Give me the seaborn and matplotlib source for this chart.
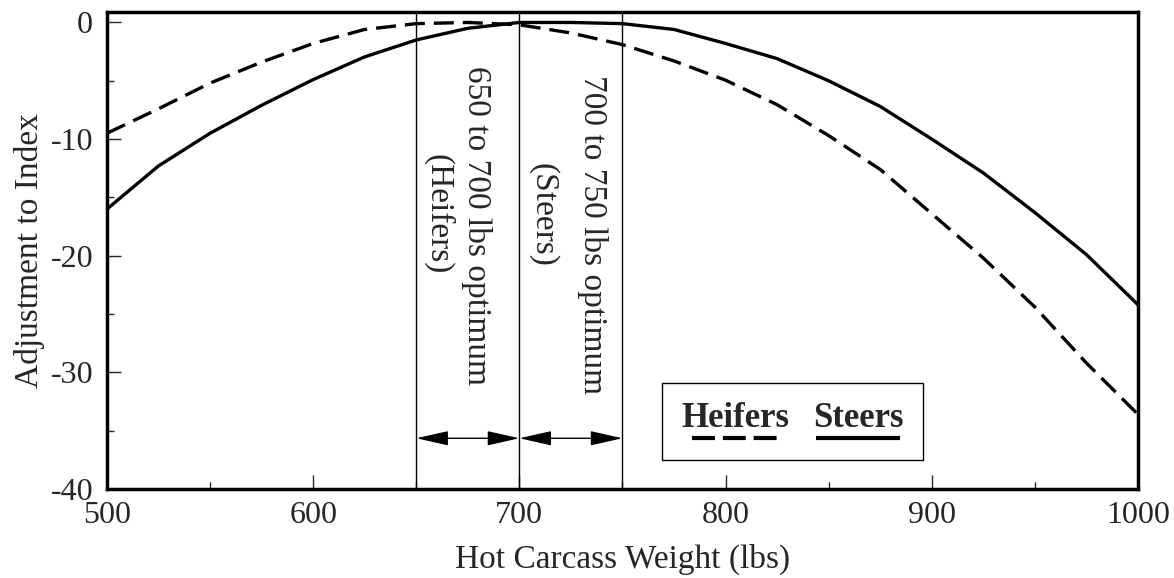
import pandas as pd
import matplotlib.pyplot as plt
import seaborn as sns
from matplotlib.lines import Line2D
from matplotlib.ticker import MultipleLocator
from matplotlib.offsetbox import AnchoredOffsetbox, DrawingArea, HPacker, TextArea, VPacker

# Values
weight = [500, 525, 550, 575, 600, 625, 650, 675, 700, 725, 750,
          775, 800, 825, 850, 875, 900, 925, 950, 975, 1000]
heifers = [-9.5, -7.4, -5.2, -3.4, -1.8, -0.6, -0.1, 0.0, -0.2, -0.9, -1.9,
           -3.3, -4.95, -7.05, -9.7, -12.6, -16.4, -20.2, -24.4, -29.2, -33.6]
steers = [-16.0, -12.3, -9.5, -7.1, -4.9, -2.95, -1.5, -0.5, 0.0, 0.0, -0.1,
          -0.6, -1.8, -3.1, -5.0, -7.2, -10.0, -12.9, -16.3, -19.9, -24.2]

groups = ["Heifers", "Steers"]
opt_bounds = [650, 700, 750]
opt_ranges = [(650, 700), (700, 750)]
x_ticks = [500, 600, 700, 800, 900, 1000]
y_ticks = [0, -10, -20, -30, -40]
y_ticklabels = ["0", "-10", "-20", "-30", "-40"]

df = pd.DataFrame({
    "weight": weight * 2,
    "adj": heifers + steers,
    "group": ["Heifers"] * len(weight) + ["Steers"] * len(weight),
})

sns.set_style("ticks")
plt.rcParams["font.family"] = ["Liberation Serif", "DejaVu Serif"]
plt.rcParams["axes.unicode_minus"] = False

fig = plt.figure(figsize=(11.74, 5.78), dpi=100)
ax = fig.add_axes([0.0911, 0.1540, 0.8782, 0.8253])

sns.lineplot(data=df, x="weight", y="adj", style="group", style_order=groups,
             dashes={"Heifers": (6, 2.7), "Steers": ""}, color="black",
             linewidth=2.4, legend=False, ax=ax)

# optimum ranges
for b in opt_bounds:
    ax.axvline(b, color="black", lw=1)
y_arrow = -35.65
for lo, hi in opt_ranges:
    ax.annotate("", xy=(hi, y_arrow), xytext=(lo, y_arrow),
                arrowprops=dict(arrowstyle="<|-|>,head_length=2.0,head_width=0.45",
                                mutation_scale=10, color="black", lw=1,
                                shrinkA=0, shrinkB=0))

ax.text(679.4, -17.4, "650 to 700 lbs optimum", rotation=-90, ha="center", va="center", fontsize=24)
ax.text(660.5, -16.4, "(Heifers)", rotation=-90, ha="center", va="center", fontsize=24)
ax.text(735.7, -18.2, "700 to 750 lbs optimum", rotation=-90, ha="center", va="center", fontsize=24)
ax.text(711.4, -16.5, "(Steers)", rotation=-90, ha="center", va="center", fontsize=24)

# axes
ax.set_xlim(500, 1000)
ax.set_ylim(-40, 0.9)
ax.set_xticks(x_ticks)
ax.set_yticks(y_ticks)
ax.set_yticklabels(y_ticklabels)
ax.xaxis.set_minor_locator(MultipleLocator(50))
ax.yaxis.set_minor_locator(MultipleLocator(5))
ax.tick_params(which="major", direction="in", length=10, width=1, labelsize=23,
               top=False, right=False)
ax.tick_params(which="minor", direction="in", length=5, width=1, top=False, right=False)
ax.tick_params(axis="x", which="major", pad=8.5)
ax.tick_params(axis="y", which="major", pad=10)
for s in ax.spines.values():
    s.set_linewidth(2.5)
    s.set_color("black")
ax.set_xlabel("Hot Carcass Weight (lbs)", fontsize=24, labelpad=10)
ax.set_ylabel("Adjustment to Index", fontsize=24, labelpad=4)

# legend: labels on top of line samples
items = []
for label, dashes, w in [("Heifers", (5.5, 1.9), 62.5), ("Steers", None, 61)]:
    txt = TextArea(label, textprops=dict(fontsize=25, fontweight="bold",
                                         family="Liberation Serif"))
    da = DrawingArea(w, 4, 0, 0)
    ln = Line2D([0, w], [2, 2], color="black", lw=3, solid_capstyle="butt")
    if dashes:
        ln.set_dashes(dashes)
    da.add_artist(ln)
    items.append(VPacker(children=[txt, da], align="center", pad=0, sep=0))

box = AnchoredOffsetbox(loc="upper left",
                        child=HPacker(children=items, align="top", pad=0, sep=17),
                        pad=1.0, borderpad=0, frameon=True, prop=dict(size=14),
                        bbox_to_anchor=(0.538, 0.2229), bbox_transform=ax.transAxes)
box.patch.set_boxstyle("square,pad=0")
box.patch.set_linewidth(1)
box.patch.set_edgecolor("black")
ax.add_artist(box)

plt.savefig("out.png", dpi=100)
